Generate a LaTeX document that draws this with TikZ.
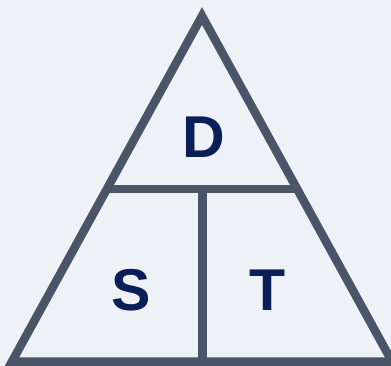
\documentclass[tikz,border=0pt]{standalone}
\usepackage{fontspec}
\setmainfont{Liberation Sans}
\definecolor{bgc}{HTML}{EEF2F6}
\definecolor{linec}{HTML}{4A5568}
\definecolor{textc}{HTML}{0A1E58}
\begin{document}
\begin{tikzpicture}[x=1pt,y=-1pt,
  edge/.style={draw=linec,line width=8.5pt},
  letter/.style={text=textc,font=\fontsize{59}{59}\selectfont\bfseries,inner sep=0pt,anchor=center}]
\useasboundingbox (0,0) rectangle (391,366);
\fill[bgc] (0,0) rectangle (391,366);
\clip (0,0) rectangle (391,366);
\coordinate (apex) at (202,16);
\coordinate (bl) at (12,361.5);
\coordinate (br) at (392,361.5);
\coordinate (ml) at (106.7,189);
\coordinate (mr) at (297.3,189);
\coordinate (mt) at (202.5,189);
\coordinate (mb) at (202.5,361.5);
\draw[edge,line join=miter] (apex) -- (br) -- (bl) -- cycle;
\draw[edge] (ml) -- (mr);
\draw[edge] (mt) -- (mb);
\node[letter] (D) at (204,137) {D};
\node[letter] (S) at (131,290) {S};
\node[letter] (T) at (267.5,290) {T};
\end{tikzpicture}
\end{document}
